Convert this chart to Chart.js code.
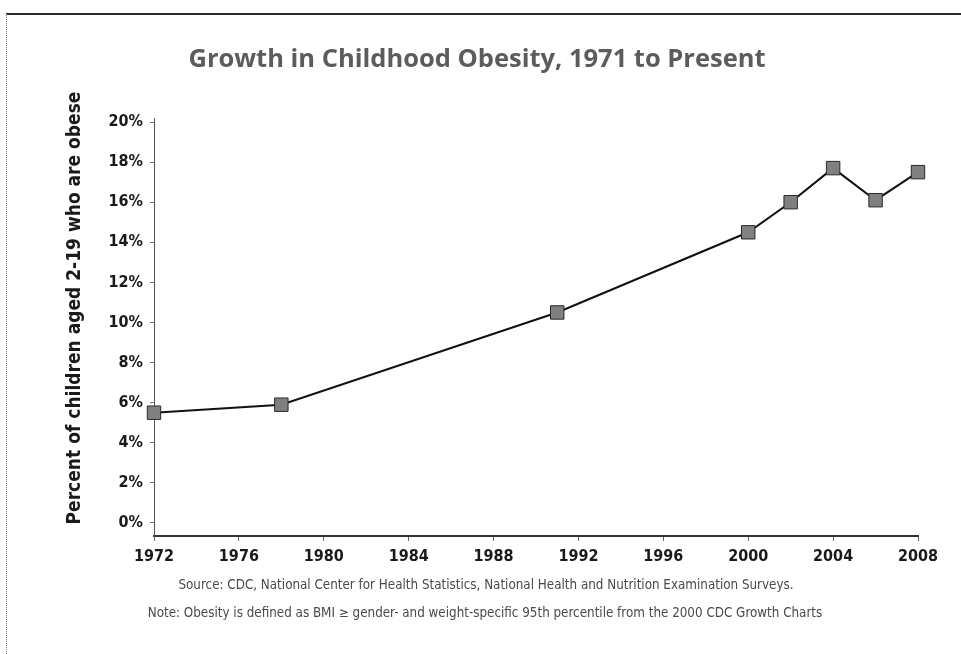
<!DOCTYPE html>
<html>
<head>
<meta charset="utf-8">
<title>Growth in Childhood Obesity</title>
<script src="https://cdn.jsdelivr.net/npm/chart.js@4/dist/chart.umd.min.js"></script>
<style>
    html, body { margin: 0; padding: 0; background: #fff; }
    .frame {
        position: absolute; left: 6px; top: 13px; right: 0; bottom: 0;
        border-top: 2px solid #2a2a2a;
        border-left: 1px dotted #777;
    }
    .chart-wrap { position: absolute; left: 0; top: 0; width: 961px; height: 654px; }
</style>
</head>
<body>
<div class="frame"></div>
<div class="chart-wrap"><canvas id="obesityChart"></canvas></div>
<script>
// survey years and share of children 2-19 who are obese (%)
const years = [1972, 1978, 1991, 2000, 2002, 2004, 2006, 2008];
const obesePct = [5.5, 5.9, 10.5, 14.5, 16.0, 17.7, 16.1, 17.5];
const yearTicks = [1972, 1976, 1980, 1984, 1988, 1992, 1996, 2000, 2004, 2008];
const pctTicks = [0, 2, 4, 6, 8, 10, 12, 14, 16, 18, 20];

const titleText = 'Growth in Childhood Obesity, 1971 to Present';
const yTitle = 'Percent of children aged 2-19 who are obese';
const notes = [
    'Source: CDC, National Center for Health Statistics, National Health and Nutrition Examination Surveys.',
    'Note: Obesity is defined as BMI \u2265 gender- and weight-specific 95th percentile from the 2000 CDC Growth Charts'
];

const condensed = '"DejaVu Sans Condensed", "Liberation Sans Narrow", sans-serif';

// title, rotated axis label and the source notes
const textPlugin = {
    id: 'pageText',
    afterDraw(chart) {
        const ctx = chart.ctx;
        ctx.save();
        ctx.textAlign = 'center';
        ctx.textBaseline = 'middle';
        ctx.fillStyle = '#5c5c5c';
        ctx.font = 'bold 25.5px "Open Sans", sans-serif';
        ctx.fillText(titleText, 477, 60);

        ctx.fillStyle = '#4a4a4a';
        ctx.font = '13.3px "Liberation Sans Narrow", ' + condensed;
        ctx.fillText(notes[0], 486, 586);
        ctx.fillText(notes[1], 485, 614);

        ctx.translate(75, 308);
        ctx.rotate(-Math.PI / 2);
        ctx.fillStyle = '#1a1a1a';
        ctx.font = 'bold 19px ' + condensed;
        ctx.fillText(yTitle, 0, 0);
        ctx.restore();
    }
};

const data = years.map((y, i) => ({ x: y, y: obesePct[i] }));

new Chart(document.getElementById('obesityChart'), {
    type: 'line',
    data: {
        datasets: [{
            label: 'Obese',
            data: data,
            borderColor: '#111',
            borderWidth: 2,
            pointStyle: 'rect',
            pointRadius: 9.5,
            pointHoverRadius: 9.5,
            pointBackgroundColor: '#808080',
            pointBorderColor: '#2a2a2a',
            pointBorderWidth: 1,
            tension: 0,
            clip: false
        }]
    },
    options: {
        responsive: true,
        maintainAspectRatio: false,
        animation: false,
        layout: {
            padding: { left: 0, top: 118, right: 43, bottom: 78 }
        },
        plugins: {
            legend: { display: false },
            tooltip: { enabled: false }
        },
        scales: {
            x: {
                type: 'linear',
                min: 1972,
                max: 2008,
                afterBuildTicks: (scale) => { scale.ticks = yearTicks.map(v => ({ value: v })); },
                afterFit: (scale) => { scale.height = 40; },
                grid: { drawOnChartArea: false, tickLength: 5, color: '#666' },
                border: { color: '#333', width: 2 },
                ticks: {
                    padding: 6,
                    color: '#1a1a1a',
                    font: { family: condensed, size: 16, weight: 'bold' },
                    callback: (v) => String(v),
                    maxRotation: 0
                }
            },
            y: {
                min: -0.65,
                max: 20.2,
                afterBuildTicks: (scale) => { scale.ticks = pctTicks.map(v => ({ value: v })); },
                afterFit: (scale) => { scale.width = 154; },
                grid: { drawOnChartArea: false, tickLength: 4, color: '#777' },
                border: { color: '#555', width: 1, dash: [1, 2] },
                ticks: {
                    padding: 7,
                    color: '#1a1a1a',
                    font: { family: condensed, size: 16, weight: 'bold' },
                    callback: (v) => v + '%'
                }
            }
        }
    },
    plugins: [textPlugin]
});
</script>
</body>
</html>
